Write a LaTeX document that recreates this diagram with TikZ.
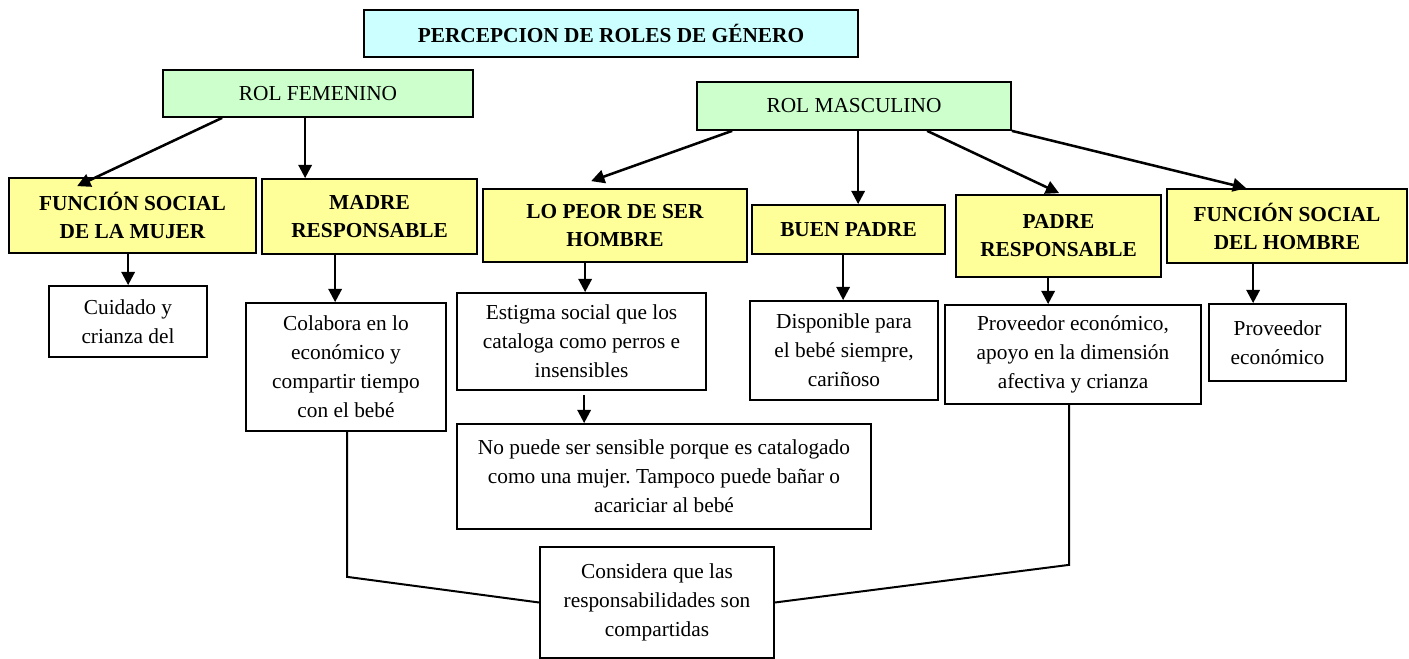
\documentclass[tikz,border=0pt]{standalone}
\usepackage{fontspec}
\setmainfont{Liberation Serif}
\usetikzlibrary{arrows.meta,calc}
\definecolor{titlecyan}{HTML}{CCFFFF}
\definecolor{rolgreen}{HTML}{CCFFCC}
\definecolor{headyellow}{HTML}{FFFF99}
\frenchspacing
\tikzset{
  sz/.style 2 args={minimum width=#1*0.75pt, minimum height=#2*0.75pt},
  box/.style={draw, line width=1.3pt, inner sep=0pt, align=center, fill=white,
    font=\fontsize{16}{21.75}\selectfont},
  head/.style={box, fill=headyellow, font=\bfseries\fontsize{16}{21}\selectfont},
  rol/.style={box, fill=rolgreen},
  titlebox/.style={box, fill=titlecyan, font=\bfseries\fontsize{16}{21}\selectfont},
  arr/.style={line width=1.9pt, -{Triangle[length=10pt,width=10pt]}},
  ln/.style={line width=1.5pt}
}
\begin{document}
\begin{tikzpicture}[x=0.75pt,y=-0.75pt]
\useasboundingbox (0,0) rectangle (1409,659);
% top level
\node[titlebox, sz={494}{47}] (t) at (611,33.5) {PERCEPCION DE ROLES DE GÉNERO};
\node[rol, sz={310}{47}] (rf) at (318,93.5) {ROL FEMENINO};
\node[rol, sz={314}{48}] (rm) at (854,106) {ROL MASCULINO};
% headings
\node[head, sz={247}{75}] (fsm) at (132.5,215.5) {FUNCIÓN SOCIAL\\DE LA MUJER};
\node[head, sz={215}{75}] (madre) at (369.5,216.5) {MADRE\\RESPONSABLE};
\node[head, sz={264}{73}] (lp) at (615,225.5) {LO PEOR DE SER\\HOMBRE};
\node[head, sz={193}{49}] (bp) at (848.5,229.5) {BUEN PADRE};
\node[head, sz={205}{82}] (pr) at (1058.5,236) {PADRE\\RESPONSABLE};
\node[head, sz={240}{74}] (fh) at (1287,226) {FUNCIÓN SOCIAL\\DEL HOMBRE};
% detail boxes
\node[box, sz={158}{71}] (cu) at (128,321.5) {Cuidado y\\crianza del};
\node[box, sz={200}{128}] (co) at (346,367) {Colabora en lo\\económico y\\compartir tiempo\\con el bebé};
\node[box, sz={249}{97}] (es) at (581.5,341.5) {Estigma social que los\\cataloga como perros e\\insensibles};
\node[box, sz={414}{105}] (np) at (664,476.5) {No puede ser sensible porque es catalogado\\como una mujer. Tampoco puede bañar o\\acariciar al bebé};
\node[box, sz={188}{99}] (di) at (844,350.5) {Disponible para\\el bebé siempre,\\cariñoso};
\node[box, sz={256}{99}] (pa) at (1073,354.5) {Proveedor económico,\\apoyo en la dimensión\\afectiva y crianza};
\node[box, sz={137}{77}] (ps) at (1277.5,342.5) {Proveedor\\económico};
\node[box, sz={234}{111}] (cs) at (657,602.5) {Considera que las\\responsabilidades son\\compartidas};
% arrows from roles
\draw[arr] ($(rf.south west)+(60,0)$) -- ($(fsm.north west)+(69,9)$);
\draw[arr] ($(rf.south west)+(143,0)$) -- ($(madre.north west)+(44,0)$);
\draw[arr] ($(rm.south west)+(36,0)$) -- ($(lp.north west)+(109,-7)$);
\draw[arr] ($(rm.south west)+(162,0)$) -- ($(bp.north west)+(107,0)$);
\draw[arr] ($(rm.south west)+(231,0)$) -- ($(pr.north west)+(104,-1)$);
\draw[arr] (rm.south east) -- ($(fh.north west)+(80,0)$);
% arrows to details
\draw[arr] ($(fsm.south west)+(120,0)$) -- ($(cu.north west)+(80,0)$);
\draw[arr] ($(madre.south west)+(74,0)$) -- ($(co.north west)+(90,0)$);
\draw[arr] ($(lp.south west)+(103,0)$) -- ($(es.north west)+(129,0)$);
\draw[arr] ($(es.south west)+(128,4)$) -- ($(np.north west)+(128,0)$);
\draw[arr] ($(bp.south west)+(92,0)$) -- ($(di.north west)+(94,0)$);
\draw[arr] ($(pr.south west)+(93,0)$) -- ($(pa.north west)+(104,0)$);
\draw[arr] ($(fh.south west)+(87,0)$) -- ($(ps.north west)+(45,0)$);
% lines to shared box
\draw[ln] ($(co.south west)+(102,0)$) -- ++(0,145) -- (cs.west);
\draw[ln] ($(pa.south west)+(125,0)$) -- ++(0,160) -- (cs.east);
\end{tikzpicture}
\end{document}
